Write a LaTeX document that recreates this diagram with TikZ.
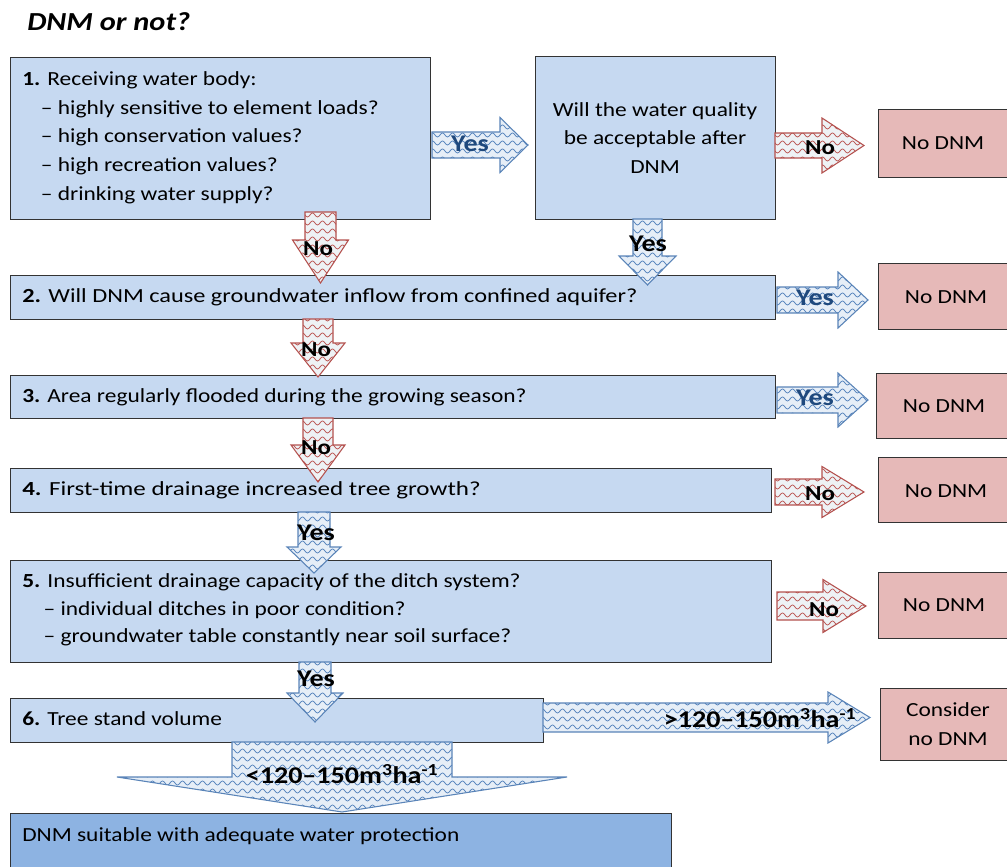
\documentclass[tikz,border=0pt]{standalone}
\usepackage{fontspec}
\usepackage{graphicx}
\setmainfont{Carlito}[FakeStretch=1.17]
\usetikzlibrary{patterns,calc}

\pgfdeclarepatternformonly{waves}{\pgfqpoint{-0.5pt}{0pt}}{\pgfqpoint{8pt}{6pt}}{\pgfqpoint{7.5pt}{6pt}}{%
  \pgfsetlinewidth{0.55pt}%
  \pgfpathmoveto{\pgfqpoint{0pt}{3pt}}%
  \pgfpathcurveto{\pgfqpoint{1.25pt}{5pt}}{\pgfqpoint{2.5pt}{5pt}}{\pgfqpoint{3.75pt}{3pt}}%
  \pgfpathcurveto{\pgfqpoint{5pt}{1pt}}{\pgfqpoint{6.25pt}{1pt}}{\pgfqpoint{7.5pt}{3pt}}%
  \pgfusepath{stroke}}

\definecolor{lblue}{HTML}{C6D9F1}
\definecolor{pinkbox}{HTML}{E6B9B8}
\definecolor{midblue}{HTML}{8DB3E2}
\definecolor{boxline}{HTML}{333333}
\definecolor{bluewave}{HTML}{4F7FBA}
\definecolor{bluebg}{HTML}{E6EEF7}
\definecolor{blueline}{HTML}{5A84B8}
\definecolor{redwave}{HTML}{B9504D}
\definecolor{redbg}{HTML}{EEF2F5}
\definecolor{redline}{HTML}{B4514E}
\definecolor{yesblue}{HTML}{1F497D}

\tikzset{
  sz/.style 2 args={minimum width={#1*0.75pt}, minimum height={#2*0.75pt}},
  box/.style={draw=boxline, line width=1pt, fill=lblue, inner sep=0pt, anchor=north west},
  nobox/.style={box, fill=pinkbox},
  endbox/.style={box, fill=midblue},
  txt/.style={font=\fontsize{15}{21.5}\selectfont, inner sep=0pt, anchor=west, align=left},
  ctxt/.style={font=\fontsize{15}{21.5}\selectfont, inner sep=0pt, align=center},
  bluearr/.style={preaction={fill=bluebg}, pattern=waves, pattern color=bluewave, draw=blueline, line width=0.8pt, line join=miter},
  redarr/.style={preaction={fill=redbg}, pattern=waves, pattern color=redwave, draw=redline, line width=0.8pt, line join=miter},
  yeslab/.style={font=\fontsize{18}{20}\selectfont\bfseries, inner sep=0pt, text=yesblue},
  yesdown/.style={font=\fontsize{18}{20}\selectfont\bfseries, inner sep=0pt, text=black},
  nolab/.style={font=\fontsize{16}{18}\selectfont\bfseries, inner sep=0pt, text=black},
  vollab/.style={font=\fontsize{18}{20}\selectfont\bfseries, inner sep=0pt, text=black},
}

% #1 style, #2 start, #3 tip, #4 shaft half width, #5 head half width, #6 head length
\newcommand\harrow[6]{%
  \path[#1] ($(#2)+(0,-#4)$) -- ($(#3)+(-#6,-#4)$) -- ($(#3)+(-#6,-#5)$) -- (#3)
    -- ($(#3)+(-#6,#5)$) -- ($(#3)+(-#6,#4)$) -- ($(#2)+(0,#4)$) -- cycle;}
\newcommand\varrow[6]{%
  \path[#1] ($(#2)+(-#4,0)$) -- ($(#3)+(-#4,-#6)$) -- ($(#3)+(-#5,-#6)$) -- (#3)
    -- ($(#3)+(#5,-#6)$) -- ($(#3)+(#4,-#6)$) -- ($(#2)+(#4,0)$) -- cycle;}

\begin{document}
\begin{tikzpicture}[x=0.75pt, y=-0.75pt]
\useasboundingbox (0,0) rectangle (1007,867);

% title
\node[anchor=west, inner sep=0pt, font=\fontsize{19.5}{20}\selectfont\bfseries\itshape] (title) at (27,22) {DNM or not?};

% question boxes
\node[box, sz={420}{162}] (b1) at (10,57) {};
\node[box, sz={240}{163}] (q1) at (535,56) {};
\node[box, sz={765}{44}] (b2) at (10,275) {};
\node[box, sz={765}{43}] (b3) at (10,375) {};
\node[box, sz={761}{44}] (b4) at (10,468) {};
\node[box, sz={761}{102}] (b5) at (10,560) {};
\node[box, sz={533}{44}] (b6) at (10,698) {};
\node[endbox, sz={661}{80}] (b7) at (10,813) {};

% outcome boxes
\node[nobox, sz={134}{68}] (n1) at (878,109) {};
\node[nobox, sz={134}{66}] (n2) at (878,263) {};
\node[nobox, sz={136}{65}] (n3) at (876,373) {};
\node[nobox, sz={134}{65}] (n4) at (878,457) {};
\node[nobox, sz={134}{66}] (n5) at (878,572) {};
\node[nobox, sz={132}{72}] (n6) at (880,688) {};

% texts
\node[txt] (t1) at (22,137.5) {\textbf{1.} Receiving water body:\\
  \hspace*{14pt}– highly sensitive to element\ loads?\\
  \hspace*{14pt}– high conservation values?\\
  \hspace*{14pt}– high recreation values?\\
  \hspace*{14pt}– drinking\ water supply?};
\node[ctxt] (tq1) at (655,138) {Will the water quality\\be acceptable after\\DNM};
\node[txt] (t2) at (22,297) {\scalebox{1.04}[1]{\textbf{2.} Will DNM cause groundwater\ inflow from\ confined aquifer?}};
\node[txt] (t3) at (22,397) {\textbf{3.} Area regularly flooded during\ the growing season?};
\node[txt] (t4) at (22,490) {\scalebox{1.07}[1]{\textbf{4.} First-time drainage increased tree growth?}};
\node[txt, font=\fontsize{15}{20.7}\selectfont] (t5) at (22,610) {\textbf{5.} Insufficient drainage capacity of the ditch system?\\
  \hspace*{16pt}– individual ditches in poor\ condition?\\
  \hspace*{16pt}– groundwater\ table constantly near soil surface?};
\node[txt] (t6) at (22,719) {\textbf{6.} Tree stand volume};
\node[txt] (t7) at (22,836) {DNM suitable with adequate water protection};

\node[ctxt] (tn1) at (943,143) {No DNM};
\node[ctxt] (tn2) at (946,297) {No DNM};
\node[ctxt] (tn3) at (944,406) {No DNM};
\node[ctxt] (tn4) at (946,491) {No DNM};
\node[ctxt] (tn5) at (944,605) {No DNM};
\node[ctxt] (tn6) at (948,724) {Consider\\no DNM};

% arrow end points
\coordinate (a1s) at (432,145);   \coordinate (a1t) at (528,145);
\coordinate (a2s) at (775,145.5); \coordinate (a2t) at (864,145.5);
\coordinate (a3s) at (320.5,212); \coordinate (a3t) at (320.5,283);
\coordinate (a4s) at (647.5,219); \coordinate (a4t) at (647.5,285);
\coordinate (a5s) at (777,300);   \coordinate (a5t) at (868,300);
\coordinate (a6s) at (318,319);   \coordinate (a6t) at (318,377);
\coordinate (a7s) at (318,418);   \coordinate (a7t) at (318,482);
\coordinate (a8s) at (777,400);   \coordinate (a8t) at (868,400);
\coordinate (a9s) at (775,492);   \coordinate (a9t) at (864,492);
\coordinate (a10s) at (314,512);  \coordinate (a10t) at (314,573);
\coordinate (a11s) at (777,606);  \coordinate (a11t) at (866,606);
\coordinate (a12s) at (315,662);  \coordinate (a12t) at (315,722);
\coordinate (a13s) at (543,717.5);\coordinate (a13t) at (870,717.5);
\coordinate (a14s) at (342,742);  \coordinate (a14t) at (342,812);

% block arrows
\harrow{bluearr}{a1s}{a1t}{13}{27.5}{28}
\harrow{redarr}{a2s}{a2t}{12.5}{27.5}{42}
\varrow{redarr}{a3s}{a3t}{15.5}{28}{43}
\varrow{bluearr}{a4s}{a4t}{14.5}{28.5}{29}
\harrow{bluearr}{a5s}{a5t}{13}{28}{30}
\varrow{redarr}{a6s}{a6t}{15}{27}{34}
\varrow{redarr}{a7s}{a7t}{15}{27}{37}
\harrow{bluearr}{a8s}{a8t}{13}{27}{30}
\harrow{redarr}{a9s}{a9t}{13}{25.5}{42}
\varrow{bluearr}{a10s}{a10t}{16}{27}{26}
\harrow{redarr}{a11s}{a11t}{14}{26.5}{43}
\varrow{bluearr}{a12s}{a12t}{16}{28}{29}
\harrow{bluearr}{a13s}{a13t}{14.5}{25.5}{42}
\varrow{bluearr}{a14s}{a14t}{110}{225}{35}

% arrow labels
\node[yeslab] (l1) at (470,144) {Yes};
\node[nolab] (l2) at (820,148) {No};
\node[nolab] (l3) at (318,249) {No};
\node[yesdown] (l4) at (648,244) {Yes};
\node[yeslab] (l5) at (815,298) {Yes};
\node[nolab] (l6) at (316,350) {No};
\node[nolab] (l7) at (316,448) {No};
\node[yeslab] (l8) at (815,398) {Yes};
\node[nolab] (l9) at (820,494) {No};
\node[yesdown] (l10) at (316,533) {Yes};
\node[nolab] (l11) at (824,610) {No};
\node[yesdown] (l12) at (316,679) {Yes};
\node[vollab] (l13) at (760,718) {>120–150m\textsuperscript{3}ha\textsuperscript{-1}};
\node[vollab] (l14) at (342,774) {<120–150m\textsuperscript{3}ha\textsuperscript{-1}};
\end{tikzpicture}
\end{document}
